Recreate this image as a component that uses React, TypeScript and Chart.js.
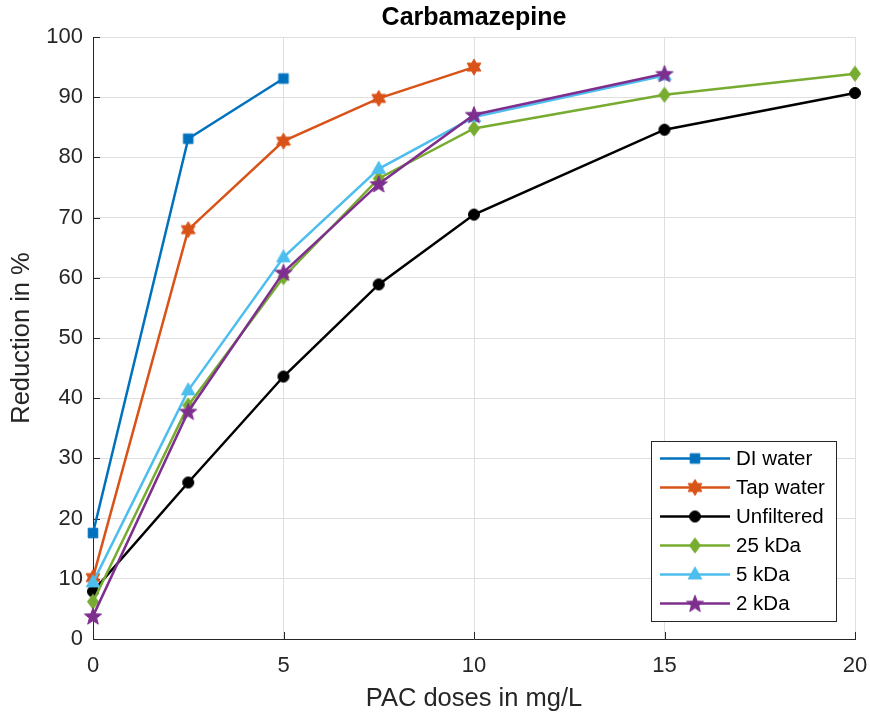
import { useEffect, useRef } from "react";
import { Chart, registerables } from "chart.js";

Chart.register(...registerables);

// PAC doses (mg/L) shared by every series; shorter series use the first entries
const doses = [0, 2.5, 5, 7.5, 10, 15, 20];

// Reduction of carbamazepine in %
const diWater = [17.6, 83.1, 93.1];
const tapWater = [10.2, 68.0, 82.7, 89.8, 95.0];
const unfiltered = [7.9, 26.0, 43.6, 58.9, 70.5, 84.6, 90.7];
const kDa25 = [6.2, 38.8, 60.1, 76.5, 84.8, 90.4, 93.9];
const kDa5 = [9.4, 41.3, 63.4, 78.1, 86.7, 93.6];
const kDa2 = [3.8, 37.8, 60.9, 75.6, 87.1, 93.9];

const seriesNames = ["DI water", "Tap water", "Unfiltered", "25 kDa", "5 kDa", "2 kDa"];
const seriesValues = [diWater, tapWater, unfiltered, kDa25, kDa5, kDa2];
const seriesColors = ["#0072BD", "#D95319", "#000000", "#77AC30", "#4DBEEE", "#7E2F8E"];
const seriesMarkers = ["square", "hexagram", "circle", "diamond", "triangle", "pentagram"];

const xTicks = [0, 5, 10, 15, 20];
const yTicks = [0, 10, 20, 30, 40, 50, 60, 70, 80, 90, 100];

const chartTitle = "Carbamazepine";
const xTitle = "PAC doses in mg/L";
const yTitle = "Reduction in %";

const FONT = "'Liberation Sans', Arial, Helvetica, sans-serif";
const AXIS = "#262626";
const GRID = "#dfdfdf";

function starPath(ctx: CanvasRenderingContext2D, cx: number, cy: number, n: number, rOut: number, rIn: number) {
  ctx.beginPath();
  for (let i = 0; i < n * 2; i++) {
    const r = i % 2 === 0 ? rOut : rIn;
    const a = -Math.PI / 2 + (i * Math.PI) / n;
    const px = cx + r * Math.cos(a);
    const py = cy + r * Math.sin(a);
    if (i === 0) ctx.moveTo(px, py);
    else ctx.lineTo(px, py);
  }
  ctx.closePath();
}

function makeMarker(shape: string, color: string): HTMLCanvasElement {
  const s = 22;
  const c = document.createElement("canvas");
  c.width = s;
  c.height = s;
  const ctx = c.getContext("2d")!;
  const m = s / 2;
  ctx.fillStyle = color;
  ctx.strokeStyle = color;
  ctx.lineWidth = 1;
  ctx.beginPath();
  switch (shape) {
    case "square":
      ctx.rect(m - 4.8, m - 4.8, 9.6, 9.6);
      break;
    case "circle":
      ctx.arc(m, m, 5.5, 0, Math.PI * 2);
      break;
    case "diamond":
      ctx.moveTo(m, m - 7.5);
      ctx.lineTo(m + 5.5, m);
      ctx.lineTo(m, m + 7.5);
      ctx.lineTo(m - 5.5, m);
      ctx.closePath();
      break;
    case "triangle":
      ctx.moveTo(m, m - 7.5);
      ctx.lineTo(m + 6.8, m + 4.5);
      ctx.lineTo(m - 6.8, m + 4.5);
      ctx.closePath();
      break;
    case "hexagram":
      starPath(ctx, m, m, 6, 8, 4.6);
      break;
    case "pentagram":
      starPath(ctx, m, m + 0.8, 5, 9, 3.8);
      break;
  }
  ctx.fill();
  ctx.stroke();
  return c;
}

export default function App() {
  const canvasRef = useRef<HTMLCanvasElement | null>(null);

  useEffect(() => {
    const canvas = canvasRef.current;
    if (!canvas) return;

    const markers = seriesMarkers.map((m, i) => makeMarker(m, seriesColors[i]));
    const n = seriesNames.length;

    const datasets = seriesNames.map((name, i) => ({
      label: name,
      data: seriesValues[i].map((v, j) => ({ x: doses[j], y: v })),
      borderColor: seriesColors[i],
      backgroundColor: seriesColors[i],
      borderWidth: 2.5,
      pointStyle: markers[i] as any,
      pointRadius: 7,
      pointHoverRadius: 7,
      tension: 0,
      fill: false,
      clip: false as any,
      order: n - i,
    }));

    const decor = {
      id: "decor",
      beforeDatasetsDraw(chart: any) {
        const { ctx, chartArea: a, scales } = chart;
        ctx.save();
        ctx.strokeStyle = AXIS;
        ctx.lineWidth = 1;
        ctx.beginPath();
        for (const t of yTicks) {
          const y = Math.round(scales.y.getPixelForValue(t)) + 0.5;
          ctx.moveTo(a.left, y);
          ctx.lineTo(a.left + 7, y);
        }
        for (const t of xTicks) {
          const x = Math.round(scales.x.getPixelForValue(t)) + 0.5;
          ctx.moveTo(x, a.bottom);
          ctx.lineTo(x, a.bottom - 7);
        }
        ctx.stroke();
        ctx.restore();
      },
      afterDraw(chart: any) {
        const { ctx, chartArea: a } = chart;
        const cx = (a.left + a.right) / 2;
        const cy = (a.top + a.bottom) / 2;
        ctx.save();

        // title
        ctx.fillStyle = "#000000";
        ctx.font = `bold 25px ${FONT}`;
        ctx.textAlign = "center";
        ctx.textBaseline = "middle";
        ctx.fillText(chartTitle, cx, 18);

        // axis titles
        ctx.fillStyle = AXIS;
        ctx.font = `25.5px ${FONT}`;
        ctx.fillText(xTitle, cx, 699);
        ctx.save();
        ctx.translate(22, cy);
        ctx.rotate(-Math.PI / 2);
        ctx.fillText(yTitle, 0, 0);
        ctx.restore();

        // legend
        const lx = 651.5;
        const ly = 441.5;
        const lw = 185;
        const lh = 180;
        ctx.fillStyle = "#ffffff";
        ctx.fillRect(lx, ly, lw, lh);
        ctx.strokeStyle = AXIS;
        ctx.lineWidth = 1;
        ctx.strokeRect(lx, ly, lw, lh);
        ctx.font = `20.5px ${FONT}`;
        ctx.textAlign = "left";
        ctx.textBaseline = "middle";
        seriesNames.forEach((name, i) => {
          const y = 458.5 + i * 29;
          ctx.strokeStyle = seriesColors[i];
          ctx.lineWidth = 2.5;
          ctx.beginPath();
          ctx.moveTo(660, y);
          ctx.lineTo(730, y);
          ctx.stroke();
          const mk = markers[i];
          ctx.drawImage(mk, 695 - mk.width / 2, y - mk.height / 2);
          ctx.fillStyle = "#000000";
          ctx.fillText(name, 736, y + 1);
        });
        ctx.restore();
      },
    };

    const chart = new Chart(canvas, {
      type: "line",
      data: { datasets: datasets as any },
      options: {
        responsive: false,
        animation: false,
        events: [],
        layout: { padding: { top: 37, right: 15, left: 0, bottom: 0 } },
        plugins: {
          legend: { display: false },
          title: { display: false },
          tooltip: { enabled: false },
        },
        scales: {
          x: {
            type: "linear",
            min: 0,
            max: 20,
            afterBuildTicks: (scale: any) => {
              scale.ticks = xTicks.map((v) => ({ value: v }));
            },
            afterFit: (scale: any) => {
              scale.height = 76;
              scale.paddingLeft = 0;
              scale.paddingRight = 0;
            },
            ticks: {
              color: AXIS,
              font: { family: FONT, size: 22 },
              padding: 14,
              maxRotation: 0,
            },
            grid: { color: GRID, lineWidth: 1, drawTicks: false },
            border: { color: AXIS, width: 1 },
          },
          y: {
            type: "linear",
            min: 0,
            max: 100,
            afterBuildTicks: (scale: any) => {
              scale.ticks = yTicks.map((v) => ({ value: v }));
            },
            afterFit: (scale: any) => {
              scale.width = 93;
              scale.paddingTop = 0;
              scale.paddingBottom = 0;
            },
            ticks: {
              color: AXIS,
              font: { family: FONT, size: 22 },
              padding: 10,
            },
            grid: { color: GRID, lineWidth: 1, drawTicks: false },
            border: { color: AXIS, width: 1 },
          },
        },
      },
      plugins: [decor],
    });

    return () => chart.destroy();
  }, []);

  return (
    <div style={{ position: "absolute", left: 0, top: 0, width: 870, height: 715, background: "#ffffff" }}>
      <canvas ref={canvasRef} width={870} height={715} style={{ display: "block" }} />
    </div>
  );
}
